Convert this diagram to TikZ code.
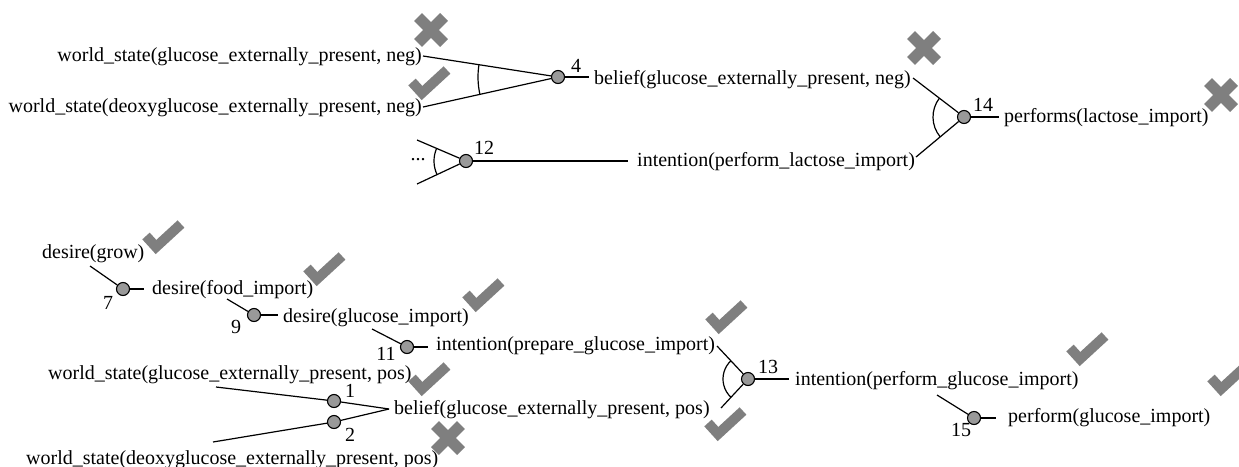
\documentclass[tikz,border=0pt]{standalone}
\usepackage{fontspec}
\setmainfont{Liberation Serif}
\usetikzlibrary{angles}
\definecolor{markgray}{HTML}{7F7F7F}
\definecolor{dotgray}{HTML}{999999}
\tikzset{
  lbl/.style={font=\fontsize{20}{23}\selectfont, inner sep=0pt},
  dot/.style={circle, draw, fill=dotgray, minimum size=13pt, inner sep=0pt, line width=1.1pt},
  conn/.style={line width=1.2pt},
  chk/.pic={\draw[markgray, line width=10pt, line join=miter] (-17,-2) -- (-7,9) -- (18,-14);},
  crs/.pic={\draw[markgray, line width=11pt] (-13,-13) -- (13,13) (-13,13) -- (13,-13);},
}
\begin{document}
\begin{tikzpicture}[x=1pt, y=-1pt]
\useasboundingbox (0,0) rectangle (1239,466);
\fill[white] (0,0) rectangle (1239,466);

% ---------- top: belief neg ----------
\node[lbl, anchor=east] (t1) at (422,57) {world\_state(glucose\_externally\_present, neg)};
\node[lbl, anchor=east] (t2) at (422,108) {world\_state(deoxyglucose\_externally\_present, neg)};
\node[dot] (c4) at (558,77) {};
\node[lbl] (n4) at (576,66) {4};
\node[lbl, anchor=west] (b4) at (594,80) {belief(glucose\_externally\_present, neg)};
\coordinate (t1e) at (423,56);
\coordinate (t2e) at (423,107);
\coordinate (c4e) at (589,77);
\draw[conn] (t1e) -- (c4);
\draw[conn] (t2e) -- (c4);
\draw[conn] (c4) -- (c4e);
\pic[draw, conn, angle radius=80pt] {angle = t1e--c4--t2e};
\pic at (431,30) {crs};
\pic at (429,84) {chk};

% ---------- top: intention lactose ----------
\node[lbl] (dots) at (418,160) {...};
\coordinate (d1) at (417,140);
\coordinate (d2) at (417,184);
\node[dot] (c12) at (466,161) {};
\node[lbl] (n12) at (484,148) {12};
\node[lbl, anchor=west] (i12) at (637,162) {intention(perform\_lactose\_import)};
\coordinate (i12e) at (628,161);
\draw[conn] (d1) -- (c12);
\draw[conn] (d2) -- (c12);
\draw[conn] (c12) -- (i12e);
\pic[draw, conn, angle radius=32pt] {angle = d1--c12--d2};

% ---------- top: performs lactose ----------
\node[dot] (c14) at (964,117) {};
\node[lbl] (n14) at (983,105) {14};
\node[lbl, anchor=west] (p14) at (1004,118) {performs(lactose\_import)};
\coordinate (b4e) at (913,78);
\coordinate (i12x) at (916,157);
\coordinate (c14e) at (999,117);
\draw[conn] (b4e) -- (c14);
\draw[conn] (i12x) -- (c14);
\draw[conn] (c14) -- (c14e);
\pic[draw, conn, angle radius=31pt] {angle = b4e--c14--i12x};
\pic at (924,48) {crs};
\pic at (1221,95) {crs};

% ---------- bottom: desires ----------
\node[lbl, anchor=west] (dg) at (42,254) {desire(grow)};
\pic at (163,238) {chk};
\coordinate (dgs) at (90,266);
\node[dot] (c7) at (123,289) {};
\node[lbl] (n7) at (108,303) {7};
\node[lbl, anchor=west] (df) at (152,290) {desire(food\_import)};
\coordinate (c7e) at (144,289);
\draw[conn] (dgs) -- (c7);
\draw[conn] (c7) -- (c7e);
\pic at (324,270) {chk};

\coordinate (dfs) at (227,299);
\node[dot] (c9) at (254,315) {};
\node[lbl] (n9) at (236,327) {9};
\node[lbl, anchor=west] (dgi) at (283,318) {desire(glucose\_import)};
\coordinate (c9e) at (278,315);
\draw[conn] (dfs) -- (c9);
\draw[conn] (c9) -- (c9e);
\pic at (483,296) {chk};

\coordinate (dgis) at (372,329);
\node[dot] (c11) at (407,347) {};
\node[lbl] (n11) at (386,354) {11};
\node[lbl, anchor=west] (ip) at (436,346) {intention(prepare\_glucose\_import)};
\coordinate (c11e) at (428,347);
\draw[conn] (dgis) -- (c11);
\draw[conn] (c11) -- (c11e);
\pic at (726,318) {chk};

% ---------- bottom: beliefs pos ----------
\node[lbl, anchor=west] (wp1) at (48,375) {world\_state(glucose\_externally\_present, pos)};
\pic at (429,380) {chk};
\node[lbl, anchor=base west] (wp2) at (26,464) {world\_state(deoxyglucose\_externally\_present, pos)};
\coordinate (w1s) at (216,387);
\coordinate (w2s) at (213,442);
\node[dot] (c1) at (334,401) {};
\node[dot] (c2) at (334,422) {};
\node[lbl] (n1) at (350,391) {1};
\node[lbl] (n2) at (350,435) {2};
\coordinate (conv) at (389,409);
\node[lbl, anchor=west] (bp) at (394,410) {belief(glucose\_externally\_present, pos)};
\draw[conn] (w1s) -- (c1) -- (conv);
\draw[conn] (w2s) -- (c2) -- (conv);
\pic at (448,438) {crs};
\pic at (725,425) {chk};

% ---------- bottom: intention perform glucose ----------
\coordinate (ipe) at (717,346);
\coordinate (bpe) at (721,408);
\node[dot] (c13) at (748,379) {};
\node[lbl] (n13) at (768,367) {13};
\node[lbl, anchor=west] (ig) at (795,381) {intention(perform\_glucose\_import)};
\coordinate (c13e) at (789,379);
\draw[conn] (ipe) -- (c13);
\draw[conn] (bpe) -- (c13);
\draw[conn] (c13) -- (c13e);
\pic[draw, conn, angle radius=25pt] {angle = ipe--c13--bpe};
\pic at (1087,350) {chk};

\coordinate (igs) at (937,395);
\node[dot] (c15) at (974,418) {};
\node[lbl] (n15) at (961,430) {15};
\node[lbl, anchor=west] (pg) at (1008,418) {perform(glucose\_import)};
\coordinate (c15e) at (996,418);
\draw[conn] (igs) -- (c15);
\draw[conn] (c15) -- (c15e);
\pic at (1228,380) {chk};
\end{tikzpicture}
\end{document}
